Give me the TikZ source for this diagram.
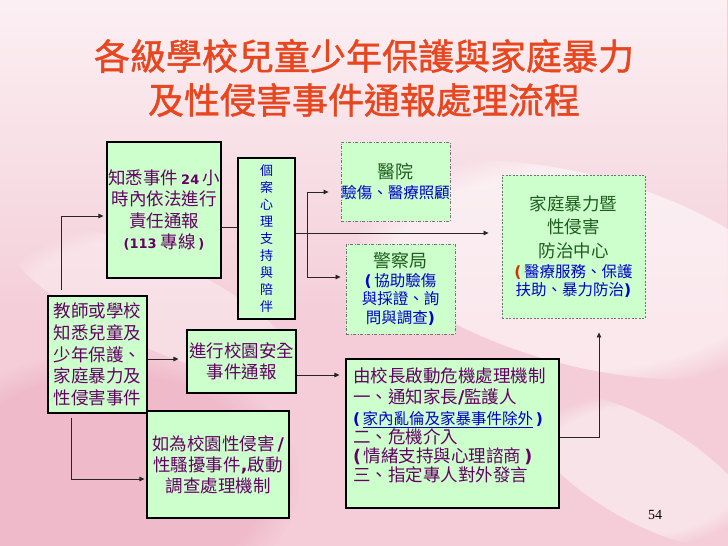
\documentclass[tikz,border=0pt]{standalone}
\usepackage{fontspec}
\setmainfont{Noto Sans CJK TC}
\newfontfamily\titlefont{Noto Sans CJK TC}[FakeBold=1.2]
\newfontfamily\latb{DejaVu Sans}
\newfontfamily\numfont{Liberation Serif}
\usetikzlibrary{arrows.meta,fadings,calc}
\definecolor{boxfill}{HTML}{CCFFCC}
\definecolor{purp}{HTML}{660066}
\definecolor{tblue}{HTML}{0000CC}
\definecolor{dgreen}{HTML}{1E5B1E}
\definecolor{tred}{HTML}{E8461E}
\definecolor{pred}{HTML}{CC3300}
\definecolor{bgA}{HTML}{F4CDD8}
\definecolor{bgB}{HTML}{EDB2C3}
\newcommand\latbold[1]{{\latb\bfseries #1}}
\tikzfading[name=fadedown, top color=transparent!0, bottom color=transparent!100]
\tikzset{
  solidbox/.style={draw=black, line width=1.1pt, fill=boxfill, inner sep=0pt, align=center},
  dashbox/.style={draw=black!55, line width=0.9pt, dash pattern=on 3pt off 1.5pt on 1pt off 1.5pt, fill=boxfill, inner sep=0pt, align=center},
  dashboxb/.style={draw=black!55, line width=0.9pt, dash pattern=on 2pt off 1.5pt, fill=boxfill, inner sep=0pt, align=center},
  arr/.style={draw=black!85, line width=0.8pt, -{Triangle[length=5pt,width=4.5pt]}},
  plainline/.style={draw=black!85, line width=0.8pt},
  ttl/.style={text=tred, font=\titlefont\fontsize{36}{40}\selectfont, inner sep=0pt},
  body/.style={font=\fontsize{17.5}{21.5}\selectfont}
}
\begin{document}
\begin{tikzpicture}[x=1pt,y=-1pt]
\useasboundingbox (0,0) rectangle (728,546);
% background
\fill[bgA] (0,0) rectangle (728,546);
\fill[bgB, opacity=0.7, path fading=circle with fuzzy edge 20 percent] (110,480) ellipse [x radius=190, y radius=130];
\fill[white, opacity=0.7, path fading=fadedown] (0,0) rectangle (728,330);
\fill[white, opacity=0.55, path fading=circle with fuzzy edge 20 percent, rotate around={-15:(580,270)}] (580,270) ellipse [x radius=230, y radius=95];
\fill[white, opacity=0.45, path fading=circle with fuzzy edge 20 percent, rotate around={-30:(640,470)}] (640,470) ellipse [x radius=130, y radius=50];
\fill[white, opacity=0.35, path fading=circle with fuzzy edge 20 percent, rotate around={-25:(150,300)}] (150,300) ellipse [x radius=160, y radius=45];

% title
\node[ttl] (t1) at (364,56) {各級學校兒童少年保護與家庭暴力};
\node[ttl] (t2) at (364,100) {及性侵害事件通報處理流程};

% boxes
\node[solidbox, body, text=purp, minimum width=114pt, minimum height=136pt] (A) at (164,210)
  {知悉事件\,{\fontsize{13}{13}\selectfont\latbold{24}}\,小\\時內依法進行\\責任通報\\{\fontsize{13}{13}\selectfont\latbold{(113}} 專線\,{\fontsize{13}{13}\selectfont\latbold{)}}};
\node[solidbox, text=tblue, font=\fontsize{13}{16.9}\selectfont, minimum width=57pt, minimum height=161pt] (B) at (266.5,238.5)
  {個\\案\\心\\理\\支\\持\\與\\陪\\伴};
\node[dashbox, text=tblue, font=\fontsize{15.5}{20}\selectfont, minimum width=109pt, minimum height=79pt] (C) at (395.5,181.5)
  {{\fontsize{18}{20}\selectfont\color{dgreen}醫院}\\驗傷、醫療照顧};
\node[dashbox, text=tblue, font=\fontsize{15.5}{18.5}\selectfont, minimum width=109pt, minimum height=90pt] (D) at (400.5,289)
  {{\fontsize{18}{18.5}\selectfont\color{dgreen}警察局}\\{\latbold{(}\,協助驗傷}\\與採證、詢\\問與調查\latbold{)}};
\node[dashboxb, text=tblue, font=\fontsize{15.5}{18}\selectfont, minimum width=143pt, minimum height=143pt] (E) at (573.5,246.5)
  {{\fontsize{17.5}{18}\selectfont\color{dgreen}家庭暴力暨}\\[5.5pt]{\fontsize{17.5}{18}\selectfont\color{dgreen}性侵害}\\[5.5pt]{\fontsize{17.5}{18}\selectfont\color{dgreen}防治中心}\\[2pt]{\color{pred}\latbold{(}}\,醫療服務、保護\\扶助、暴力防治\latbold{)}};
\node[solidbox, text=purp, font=\fontsize{17.5}{21.75}\selectfont, minimum width=99pt, minimum height=117pt] (F) at (97.5,354.5)
  {教師或學校\\知悉兒童及\\少年保護、\\家庭暴力及\\性侵害事件};
\node[solidbox, body, text=purp, minimum width=109pt, minimum height=63pt] (G) at (241.5,361.5)
  {進行校園安全\\事件通報};
\node[solidbox, text=purp, font=\fontsize{17.5}{21}\selectfont, minimum width=142pt, minimum height=107pt] (H) at (218,464.5)
  {如為校園性侵害\,\latbold{/}\\性騷擾事件\latbold{,}啟動\\調查處理機制};
\node[solidbox, minimum width=213pt, minimum height=149pt] (I) at (452.5,433.5) {};
\node[text=purp, text width=199pt, align=left, inner sep=0pt, font=\fontsize{17.5}{19}\selectfont] (Itext) at (452.5,425)
  {由校長啟動危機處理機制\\[2pt]一、通知家長\latbold{/}監護人\\[2pt]{\fontsize{15.5}{19}\selectfont\color{tblue}\latbold{(}\,\underline{家內亂倫及家暴事件除外}\,\latbold{)}}\\二、危機介入\\\latbold{(}\,情緒支持與心理諮商\,\latbold{)}\\三、指定專人對外發言};

\node[font=\numfont\fontsize{14}{14}\selectfont, inner sep=0pt] (pg) at (655,515) {54};

% connectors
\draw[arr, shorten <=5pt, shorten >=3pt] ([xshift=13.5pt]F.north west) |- ([yshift=-6pt]A.west);
\draw[plainline] ([yshift=-17pt]A.east) -- ([yshift=-17pt]A.east -| B.west);
\draw[arr, shorten >=13pt] ([yshift=5.5pt]B.east) -- ([yshift=5.5pt]B.east -| E.west);
\coordinate (br) at ([xshift=12pt,yshift=5.5pt]B.east);
\draw[arr, shorten >=12pt] (br) |- ([yshift=-10.5pt]C.west);
\draw[arr, shorten >=5pt] (br) |- ([yshift=12pt]D.west);
\draw[arr, shorten >=8pt] ([yshift=-4.5pt]F.east) -- ([yshift=-4.5pt]F.east -| G.west);
\draw[arr, shorten <=4pt, shorten >=2pt] ([xshift=24pt]F.south west) |- ([yshift=-14.5pt]H.west);
\draw[arr, shorten >=6pt] ([yshift=-13.5pt]G.east) -- ([yshift=-13.5pt]G.east -| I.west);
\draw[arr, shorten >=14pt] ([yshift=-4pt]I.east) -| ([xshift=25.5pt]E.south);
\end{tikzpicture}
\end{document}
